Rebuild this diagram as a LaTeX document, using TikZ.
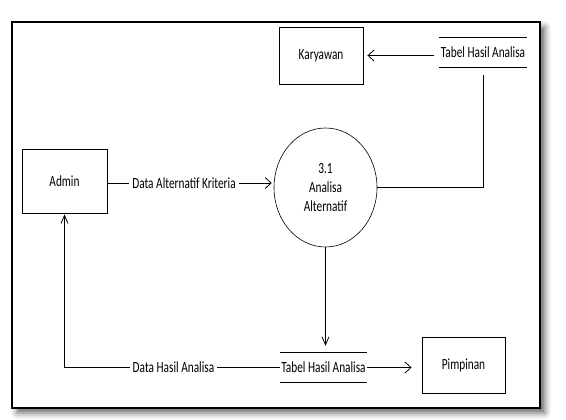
\documentclass[tikz,border=0pt]{standalone}
\usepackage{fontspec}
\setmainfont[FakeStretch=0.73]{Carlito}
\usetikzlibrary{shapes.geometric,arrows.meta,shadows.blur}
\begin{document}
\begin{tikzpicture}[x=1pt,y=-1pt,
  every node/.style={font=\fontsize{15.5}{19}\selectfont, text=black},
  entity/.style={draw, line width=0.9pt, rectangle, inner sep=0pt},
  process/.style={draw, line width=0.6pt, ellipse, minimum width=103pt, minimum height=119pt, inner sep=0pt, align=center},
  store/.style={inner sep=0pt, minimum width=88pt, minimum height=30pt},
  storeline/.style={line width=0.9pt},
  flowlabel/.style={inner sep=3pt},
  flow/.style={line width=0.8pt},
  harr/.style={flow, -{Straight Barb[length=6pt,width=11pt]}},
  varr/.style={flow, -{Straight Barb[length=8pt,width=7pt]}},
]
\useasboundingbox (0,0) rectangle (566,420);
% frame with shadow
\draw[line width=1.3pt, fill=white, blur shadow={shadow xshift=5pt, shadow yshift=-5pt, shadow blur radius=6pt, shadow opacity=60}] (12,22) rectangle (540,408);

% nodes
\node[entity, minimum width=85pt, minimum height=64pt] (admin) at (64.5,181) {Admin};
\node[entity, minimum width=84pt, minimum height=57pt] (kary) at (321,55.5) {Karyawan};
\node[entity, minimum width=83pt, minimum height=56pt] (pimp) at (463.5,365) {Pimpinan};
\node[process] (proc) at (325.5,187.5) {3.1\\Analisa\\Alternatif};
\node[store] (store1) at (483,52.5) {Tabel Hasil Analisa};
\node[store, minimum width=87pt, minimum height=29pt] (store2) at (323.5,367.5) {Tabel Hasil Analisa};
\draw[storeline] (store1.north west) -- (store1.north east);
\draw[storeline] (store1.south west) -- (store1.south east);
\draw[storeline] (store2.north west) -- (store2.north east);
\draw[storeline] (store2.south west) -- (store2.south east);

\node[flowlabel] (l1) at (184,183) {Data Alternatif Kriteria};
\node[flowlabel] (l2) at (173.5,367.5) {Data Hasil Analisa};

% connectors
\draw[harr, shorten <=5pt, shorten >=4pt] (kary.east -| store1.west) -- (kary.east);
\draw[flow, shorten >=7pt] (proc.east) -- (proc.east -| store1.south) -- (store1.south);
\draw[flow] (admin.east |- l1.west) -- (l1.west);
\draw[harr, shorten >=2pt] (l1.east) -- (l1.east -| proc.west);
\draw[varr, shorten >=7pt] (proc.south) -- (proc.south |- store2.north);
\draw[flow] (store2.west) -- (l2.east);
\draw[varr, shorten >=1pt] (l2.west) -- (l2.west -| admin.south) -- (admin.south);
\draw[harr, shorten >=10pt] (store2.east) -- (store2.east -| pimp.west);
\end{tikzpicture}
\end{document}
